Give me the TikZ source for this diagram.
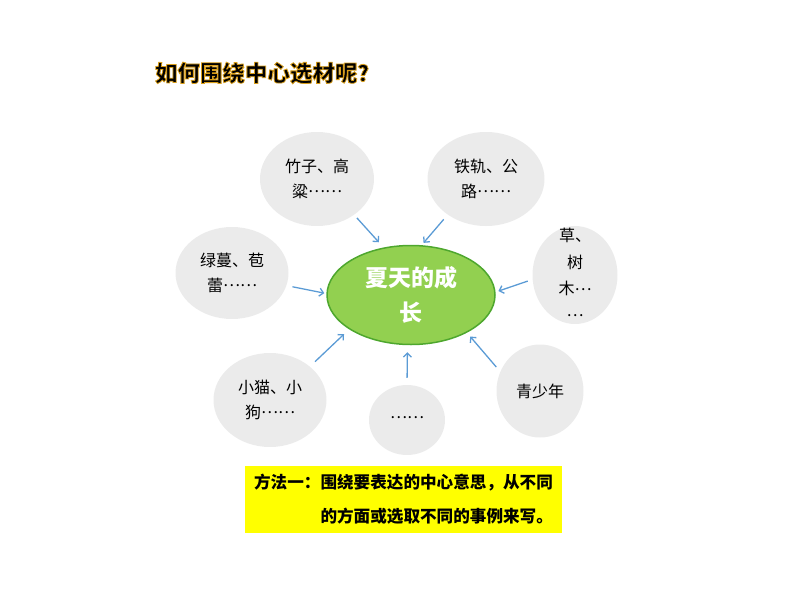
\documentclass[tikz,border=0pt]{standalone}
\usepackage{fontspec}
\usepackage{tikz}
\usetikzlibrary{arrows.meta,positioning,shapes.geometric}
\setmainfont{Noto Sans CJK SC}
\definecolor{satgray}{HTML}{EBEBEB}
\definecolor{hubfill}{HTML}{92D050}
\definecolor{hubline}{HTML}{4EA72E}
\definecolor{feedblue}{HTML}{5B9BD5}
\definecolor{boxyellow}{HTML}{FFFF00}
\newcommand{\middots}[1]{\raisebox{0.3em}{#1}}
\tikzset{
    >={Straight Barb[length=4pt,width=8pt]},
    every picture/.style={line width=0.5pt},
    topic/.style={ellipse,fill=satgray,inner sep=0pt,align=center,font=\fontsize{16}{25}\selectfont},
    hub/.style={ellipse,draw=hubline,fill=hubfill,line width=1.5pt,minimum width=168pt,minimum height=99pt,
        text=white,align=center,font=\fontsize{23}{35}\selectfont\bfseries},
    feed/.style={->,draw=feedblue,line width=1.3pt,shorten <=5pt,shorten >=5pt}
}

\begin{document}
\begin{tikzpicture}[x=1pt,y=-1pt]
    \useasboundingbox (0,0) rectangle (800,600);

    % Title
    \node[font=\fontsize{22.5}{27}\selectfont\bfseries] (title) at (267.5,73)
        {\special{pdf:literal direct 0.85 0.62 0.1 RG 0.8 w 2 Tr}如何围绕中心选材呢？\special{pdf:literal direct 0 Tr}};

    % Centre and topics
    \node[hub] (grow) at (411,295) {夏天的成\\长};
    \node[topic,minimum width=114pt,minimum height=94pt] (bamboo) at (317,179) {竹子、高\\粱\middots{……}};
    \node[topic,minimum width=117pt,minimum height=94pt] (rail) at (486,179) {铁轨、公\\路\middots{……}};
    \node[topic,minimum width=113pt,minimum height=92pt] (vine) at (232,273) {绿蔓、苞\\蕾\middots{……}};
    \node[topic,minimum width=85pt,minimum height=98pt,inner ysep=-16pt,
        font=\fontsize{16}{26.5}\selectfont] (grass) at (575,275) {草、\\树\\木\middots{…}\\\middots{…}};
    \node[topic,minimum width=113pt,minimum height=94pt] (kitten) at (270,400) {小猫、小\\狗\middots{……}};
    \node[topic,minimum width=76pt,minimum height=70pt] (more) at (407,420) {\middots{……}};
    \node[topic,minimum width=87pt,minimum height=93pt] (youth) at (540,391) {青少年};

    % Arrows
    \draw[feed,shorten <=4pt,shorten >=7pt] (bamboo.-44) -- (grow.120);
    \draw[feed,shorten <=6pt,shorten >=3pt] (rail.223) -- (grow.78);
    \draw[feed,shorten <=6pt,shorten >=2pt] (vine.-13) -- (grow.179);
    \draw[feed,shorten <=5pt,shorten >=3pt] (grass.186) -- (grow.2);
    \draw[feed,shorten <=7pt,shorten >=7pt] (kitten.40) -- (grow.209);
    \draw[feed,shorten <=7pt,shorten >=7pt] (more.90) -- (grow.-94);
    \draw[feed,shorten <=6pt,shorten >=5pt] (youth.154) -- (grow.-34);

    % Method box
    \node[fill=boxyellow,minimum width=317pt,minimum height=67pt,align=left,
        font=\fontsize{16.6}{34}\selectfont\bfseries] (method) at (403.5,499.5)
        {方法一：围绕要表达的中心意思，从不同\\\hspace*{4em}的方面或选取不同的事例来写。};
\end{tikzpicture}
\end{document}
